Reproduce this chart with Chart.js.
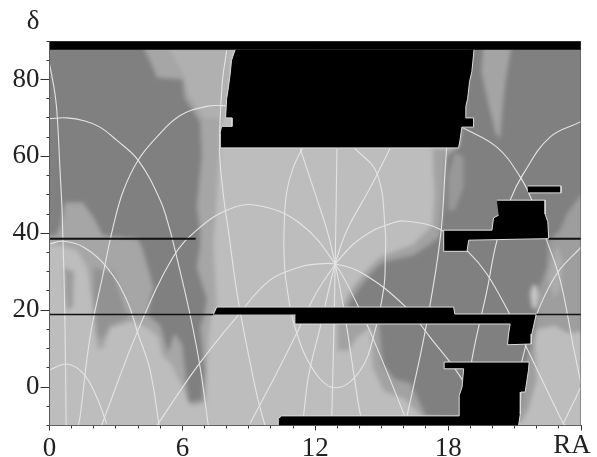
<!DOCTYPE html>
<html>
<head>
<meta charset="utf-8">
<title>RA - dec</title>
<script src="https://cdn.jsdelivr.net/npm/chart.js@4"></script>
<style>
  html, body { margin: 0; padding: 0; background: #fff; }
  canvas { display: block; filter: blur(0.4px); }
</style>
</head>
<body>
<canvas id="grafico" width="597" height="457"></canvas>
<script>
// axis values
const xMajorTicks = [0, 6, 12, 18, 24];
const xTickLabels = ["0", "6", "12", "18", ""];
const xMinorTicks = [0,1,2,3,4,5,6,7,8,9,10,11,12,13,14,15,16,17,18,19,20,21,22,23,24];
const yMajorTicks = [0, 20, 40, 60, 80];
const yMinorTicks = [-10,-5,0,5,10,15,20,25,30,35,40,45,50,55,60,65,70,75,80,85,90];

// grey regions, read as [RA, dec]
const wholeSky = [[0,-10],[24,-10],[24,90],[0,90]];
const midLeft = [[-1,90],[7.9,90],[7.8,75],[7.7,62],[7.5,45],[7.4,37],[7.55,21],[7.3,18.5],[7.2,14],[7.1,5],[7.05,-4],[6.4,-5],[6.1,-1],[5.5,6],[5.1,8],[4.9,13],[4.4,15.5],[3.7,17],[2.75,15.5],[2.4,10],[2.15,10],[2.05,16],[1.9,24],[1.7,31],[1.25,35.5],[0.3,37],[-1,37]];
const midTopLight = [[5.2,90],[8.2,90],[8,70],[7,70],[6.3,76],[6,82]];
const darkLeft = [[-1,90],[4.1,90],[4.6,84],[4.85,80.5],[6,80],[6.1,75.3],[6.8,69],[6.87,60],[6.65,47],[6.8,40.8],[6.8,37],[6.65,31],[7.1,23],[7,19],[6.8,15.6],[7,4.4],[6.9,-3.4],[6.3,-3.9],[6.2,0],[6,11],[5.65,14],[5.35,9],[5,16],[4.4,19],[4.7,26],[4.2,36],[4,38.5],[2.4,39.5],[2,44],[1.5,48],[0.7,48],[0.5,42],[0.3,39.5],[-1,39.5]];
const streakLeftA = [[2,31],[2.9,30],[3.3,22],[3.6,18],[2.7,16],[2.3,12],[2.15,15],[2,24]];
const streakLeftB = [[0.65,31],[1.1,30],[1.05,21],[0.8,20],[0.7,25]];
const midCentre = [[13.3,22],[13.7,26],[14.5,31.5],[15,34],[16.4,37],[17.3,42],[17.4,50],[17.3,62],[18.6,62],[18.6,-8],[16.9,-8],[16,-3],[15.1,-1],[14.6,5],[14.5,15.5],[13.9,13],[13.5,9.5],[13,9.5],[13,16.5]];
const midRight = [[20,90],[25,90],[25,15],[23.4,14],[22.8,16],[22,15],[21.9,12],[22,2],[21.6,-6],[21.3,-9],[20,-9]];
const darkRight = [[19,90],[25,90],[25,50.5],[24,50],[23.36,45],[23.05,40.8],[22.54,38],[22.46,31],[22,24],[22,19],[21.7,10],[21.5,6.5],[21.3,-5],[18.5,-8],[17,-7.5],[16.3,1],[15.6,2],[15.05,6],[14.9,15.5],[14.8,19],[13.43,20.8],[13.88,25],[14.64,30.4],[15.1,32.5],[16.44,34.3],[17.2,37.2],[17.6,39],[17.8,48.6],[17.95,60],[18.5,62.5]];
const streakTop = [[19.6,90],[20.9,90],[20.6,80],[20.45,72],[20.35,64.5],[20.15,66],[19.8,74],[19.5,82]];
const streakMid = [[18.3,61],[18.7,60],[18.7,52],[18.3,46],[18,46],[18,55]];
const streakRight = [[22.9,37],[23.2,33],[23.1,26],[22.8,23],[22.5,28]];
const blobRight = [[21.7,24],[21.8,26.5],[22,26.5],[22.1,24],[22,20.5],[21.8,20.5]];

// white curves, read as [RA, dec]
const curveA = [[0,69.8],[0.78,70],[1.6,69.2],[2.28,67.6],[3.03,64.2],[4,59],[5,48.6],[5.44,40.8],[5.67,35.6],[6.34,19],[6.8,5.2],[7.17,-10]];
const curveB = [[7.95,73.2],[7.1,73],[5.9,70.6],[4.84,65],[4,59],[3.33,51],[2.87,41.6],[2.42,29.4],[1.83,13],[1.38,-7.8],[1.3,-10]];
const curveC = [[0,84],[0.2,78],[0.33,72],[0.47,57],[0.58,44],[0.7,15.6],[0.75,-10]];
const curveD = [[0,37.2],[0.62,37.9],[1.53,36.4],[2.58,31.2],[3.49,22.6],[4,13.8],[4.54,4.4],[4.95,-10]];
const curveE = [[4.85,-10],[6.65,5.2],[8.45,18.2],[9.95,27.8],[11.3,31.2],[11.93,31.9],[12.9,32],[14.18,29.4],[16,21.3],[17.18,13],[18.7,1.3],[19.5,-10]];
const curveF = [[2.35,-10],[4,14.8],[5.58,33.8],[6.65,40.8],[8,46],[9.35,47.3],[11.3,42.6],[12.9,32],[13.96,20.8],[14.64,12.2],[16,-7],[16.15,-10]];
const curveG = [[16.05,-10],[17,15.6],[17.65,39],[17.87,57],[17.95,64]];
const curveH = [[12.9,32],[13.73,37.2],[14.64,40.8],[15.4,42.5],[16,43.2],[17.65,41],[18.93,35],[19.75,29.4],[20.73,19.5],[21.56,10],[23.2,-9.5],[23.3,-10]];
const curveI = [[8,87.5],[7.8,79],[7.68,62],[7.85,50],[8.07,41],[8.52,22.6],[9.35,-1.7],[9.73,-10]];
const curveJ = [[12.9,32],[12,24],[11.3,15.6],[10.2,3],[9.05,-9.5]];
const curveK = [[18.62,67.6],[20.2,62.4],[21.26,54.6],[21.78,48.6],[22.46,38],[23.06,27.8],[23.66,10.4],[24,0.9]];
const curveL = [[24,69],[22.6,65],[21.4,55.5],[20.8,48.6],[20.2,38],[19.75,25],[19.07,7],[18.7,-10]];
const curveM = [[24,36.4],[22.9,29.4],[22,19],[21.47,9.9],[20.7,-10]];
const curveN = [[23.2,-9.5],[24,0]];
const curveO = [[0,4.4],[0.78,6],[1.53,3.5],[2.13,-2.6],[2.58,-9.5]];
const spokeA = [[11.32,62],[12.07,49],[12.53,40.8],[12.9,32],[13.3,20],[13.7,5],[14.03,-7],[14.2,-10]];
const spokeB = [[12.98,62],[12.9,32],[12.75,-7],[12.7,-10]];
const spokeC = [[15.37,62],[14.5,52],[13.43,40.8],[12.9,32],[12.2,15],[11.7,3],[11.48,-7],[11.4,-10]];
const ellipseA = [[11.6,64],[11,57],[10.7,50.3],[10.59,40.8],[10.6,33],[10.7,26.8],[11.08,15.6],[11.93,4.3],[12.9,-0.2],[14.03,4.3],[14.7,14.7],[15.1,26],[15.16,33],[15.16,40.8],[14.79,55.5],[13.8,62],[13.4,64]];

// black regions, read as [RA, dec]
const blackTop = [[0,90],[24,90],[24,87.7],[0,87.7]];
const blackCap = [[8.38,87.7],[8.22,85],[8.15,81],[8.08,78],[8,75],[7.95,70],[8.24,70],[8.24,67.8],[7.77,67.8],[7.7,66],[7.7,62.2],[18.47,62.2],[18.53,64],[18.62,67.6],[19.15,67.6],[19.15,70],[18.8,70],[18.8,73],[18.88,75],[18.97,79.5],[19.07,82],[19.17,87.7]];
const blackBar = [[21.6,52.3],[23.1,52.3],[23.1,50.5],[21.6,50.5]];
const blackKnot = [[20.2,48.6],[22.38,48.6],[22.38,45],[22.5,43],[22.54,39],[22.54,38.6],[18.93,38.2],[18.85,35.3],[17.8,35.3],[17.8,40.8],[19.98,40.8],[20.05,44],[20.28,44.7]];
const blackBand = [[7.4,18.9],[7.55,20.8],[18.25,20.8],[18.3,19],[21.98,19],[21.78,13.8],[21.75,11.2],[20.68,11],[20.73,13.8],[20.8,16.4],[11.08,16.4],[11.08,18.9]];
const blackFoot = [[10.33,-10],[10.33,-8.2],[10.48,-7.5],[18.5,-7.5],[18.5,-2.2],[18.63,0],[18.7,4.75],[17.82,4.75],[17.82,6.5],[21.66,6.5],[21.63,4.4],[21.56,1.8],[21.48,-1.3],[21.29,-1.3],[21.26,-7],[21.18,-10]];

// thin black lines, read as [RA, dec]
const lineUpperLeft = [[0,38.6],[6.6,38.6]];
const lineUpperRight = [[22.54,38.6],[24,38.6]];
const lineLowerLeft = [[0,18.9],[7.4,18.9]];
const lineLowerRight = [[21.98,18.9],[24,18.9]];
const frame = [[0,-10],[24,-10],[24,90],[0,90],[0,-10]];

const toPoints = lista => lista.map(p => ({x: p[0], y: p[1]}));
const relleno = (lista, color, borde) => ({
    data: toPoints(lista),
    showLine: true,
    fill: "shape",
    backgroundColor: color,
    borderColor: borde || color,
    borderWidth: borde ? 1 : 0,
    pointRadius: 0,
    tension: 0
});
const linea = (lista, color, ancho, curva) => ({
    data: toPoints(lista),
    showLine: true,
    fill: false,
    borderColor: color,
    borderWidth: ancho,
    pointRadius: 0,
    tension: curva
});

const fondo = [relleno(wholeSky, "#bdbdbd")];
const grises = [
    relleno(midLeft, "#a6a6a6"),
    relleno(midTopLight, "#b0b0b0"),
    relleno(midCentre, "#a2a2a2"),
    relleno(midRight, "#9e9e9e"),
    relleno(darkLeft, "#808080"),
    relleno(darkRight, "#808080"),
    relleno(streakLeftA, "#929292"),
    relleno(streakLeftB, "#9c9c9c"),
    relleno(streakTop, "#a4a4a4"),
    relleno(streakMid, "#989898"),
    relleno(streakRight, "#acacac"),
    relleno(blobRight, "#c6c6c6")
];
const blancas = [curveA, curveB, curveC, curveD, curveE, curveF, curveG, curveH, curveI, curveJ,
    curveK, curveL, curveM, curveN, curveO, spokeA, spokeB, spokeC, ellipseA]
    .map(c => linea(c, "#e4e4e4", 1.1, 0.4));
const negras = [relleno(blackTop, "#000000")].concat(
    [blackCap, blackBar, blackKnot, blackBand, blackFoot].map(r => relleno(r, "#000000", "#dcdcdc")));
const lineas = [
    linea(lineUpperLeft, "#111111", 2, 0),
    linea(lineUpperRight, "#111111", 2, 0),
    linea(lineLowerLeft, "#111111", 1.5, 0),
    linea(lineLowerRight, "#111111", 1.5, 0),
    linea(frame, "#555555", 1, 0)
];
// Chart.js pinta primero el order mas alto
const capas = [...fondo, ...grises, ...blancas, ...negras, ...lineas];
capas.forEach((d, i) => { d.order = capas.length - i; });

// los grises van difuminados como en la imagen original
const difuminado = {
    id: "difuminado",
    afterDatasetDraw(chart, args) {
        if (args.index === 0) chart.ctx.filter = "blur(2px)";
        if (args.index === grises.length) chart.ctx.filter = "none";
    }
};
const textos = {
    id: "textos",
    afterDraw(chart) {
        const ctx = chart.ctx;
        ctx.save();
        ctx.fillStyle = "#222";
        ctx.font = "27px 'Liberation Serif'";
        ctx.textAlign = "center";
        ctx.fillText("δ", 33, 29);
        ctx.fillText("RA", chart.scales.x.getPixelForValue(24) - 9, 453);
        ctx.restore();
    }
};

const ejeMenor = (valores, largo) => ({
    type: "linear",
    weight: -1,
    afterBuildTicks: s => { s.ticks = valores.map(v => ({value: v})); },
    afterFit: s => { s.width = s.isHorizontal() ? s.width : 0; s.height = s.isHorizontal() ? 0 : s.height; },
    grid: {drawOnChartArea: false, drawTicks: true, tickLength: largo, color: "#333"},
    border: {display: false},
    ticks: {display: false}
});

new Chart(document.getElementById("grafico"), {
    type: "scatter",
    data: {datasets: capas},
    options: {
        responsive: false,
        animation: false,
        events: [],
        layout: {padding: {top: 41, right: 16, left: 0, bottom: 0}},
        plugins: {legend: {display: false}, tooltip: {enabled: false}},
        scales: {
            x: {
                type: "linear", position: "bottom", min: 0, max: 24,
                afterBuildTicks: s => { s.ticks = xMajorTicks.map(v => ({value: v})); },
                afterFit: s => { s.height = 31.5; },
                grid: {drawOnChartArea: false, tickLength: 5, color: "#333"},
                border: {color: "#555"},
                ticks: {
                    padding: 2, color: "#222", autoSkip: false, maxRotation: 0,
                    font: {family: "'Liberation Serif'", size: 27},
                    callback: v => xTickLabels[xMajorTicks.indexOf(v)]
                }
            },
            y: {
                type: "linear", position: "left", min: -10, max: 90,
                afterBuildTicks: s => { s.ticks = yMajorTicks.map(v => ({value: v})); },
                afterFit: s => { s.width = 49.5; },
                grid: {drawOnChartArea: false, tickLength: 9, color: "#333"},
                border: {color: "#555"},
                ticks: {
                    padding: 1, color: "#222", autoSkip: false,
                    font: {family: "'Liberation Serif'", size: 27},
                    callback: v => String(v)
                }
            },
            xMenor: {...ejeMenor(xMinorTicks, 3), position: "bottom", min: 0, max: 24},
            yMenor: {...ejeMenor(yMinorTicks, 3), position: "left", min: -10, max: 90}
        }
    },
    plugins: [difuminado, textos]
});
</script>
</body>
</html>
